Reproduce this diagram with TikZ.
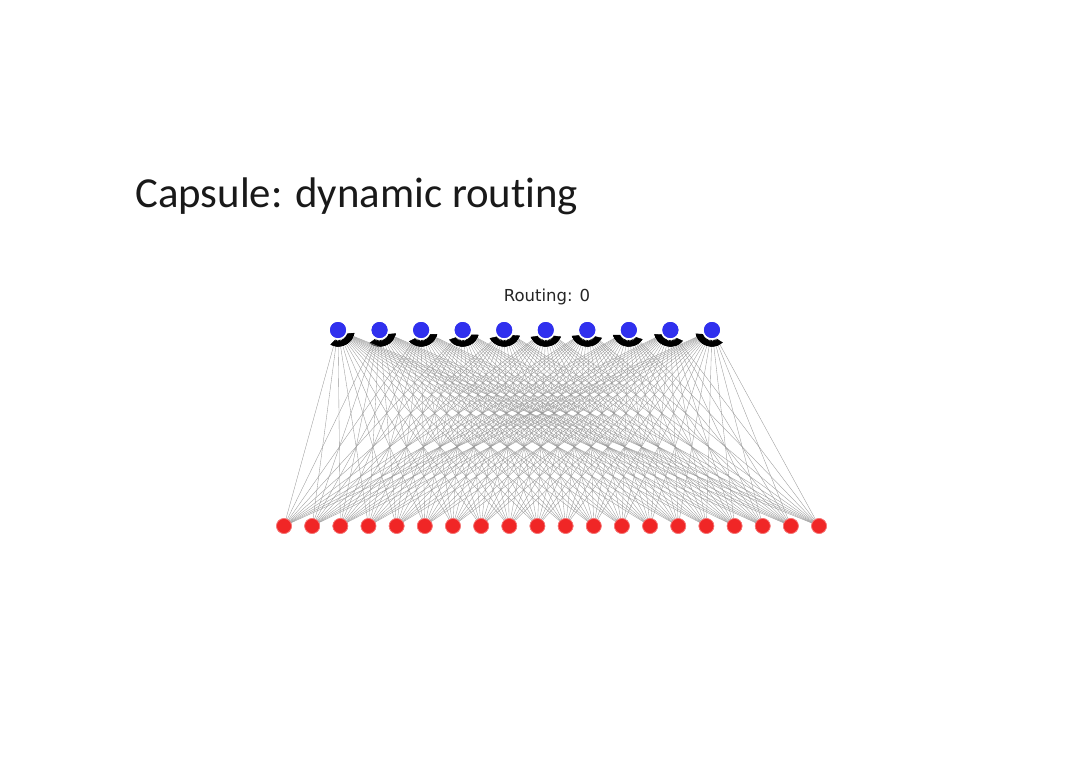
\documentclass[tikz,border=0pt]{standalone}
\usepackage{fontspec}
\setmainfont[Ligatures=NoCommon]{Carlito}
\newfontfamily\mplfont{DejaVu Sans}
\usetikzlibrary{arrows.meta}
\definecolor{capblue}{RGB}{48,48,238}
\definecolor{capred}{RGB}{240,38,38}
\tikzset{
  upper/.style={circle,fill=capblue,draw=none,minimum size=16pt,inner sep=0pt,outer sep=1.8pt},
  lower/.style={circle,fill=capred,draw=capred!60,line width=0.6pt,minimum size=15pt,inner sep=0pt,outer sep=0pt},
  edge/.style={draw=black!40,line width=0.35pt,-{Triangle[length=6.5pt,width=7pt,color=black]}},
  titletext/.style={anchor=base west,inner sep=0pt,font=\fontsize{42.8}{48}\selectfont,text=black!90},
  routetext/.style={anchor=base,inner sep=0pt,font=\mplfont\fontsize{16.5}{19}\selectfont,text=black!85}
}
\begin{document}
\begin{tikzpicture}[x=1pt,y=-1pt]
\useasboundingbox[fill=white] (0,0) rectangle (1080,763);
\node[titletext] (title) at (135,207) {Capsule: dynamic routing};
\node[routetext] (routing) at (547,301) {Routing: 0};
\foreach \i in {0,...,9} {
  \node[upper] (b\i) at ({338+\i*41.55},330) {};
}
\foreach \j in {0,...,19} {
  \node[lower] (r\j) at ({284+\j*28.16},526) {};
}
\foreach \j in {0,...,19} {
  \foreach \i in {0,...,9} {
    \draw[edge] (r\j) -- (b\i);
  }
}
\foreach \i in {0,...,9} {
  \node[upper] at (b\i) {};
}
\foreach \j in {0,...,19} {
  \node[lower] at (r\j) {};
}
\end{tikzpicture}
\end{document}
